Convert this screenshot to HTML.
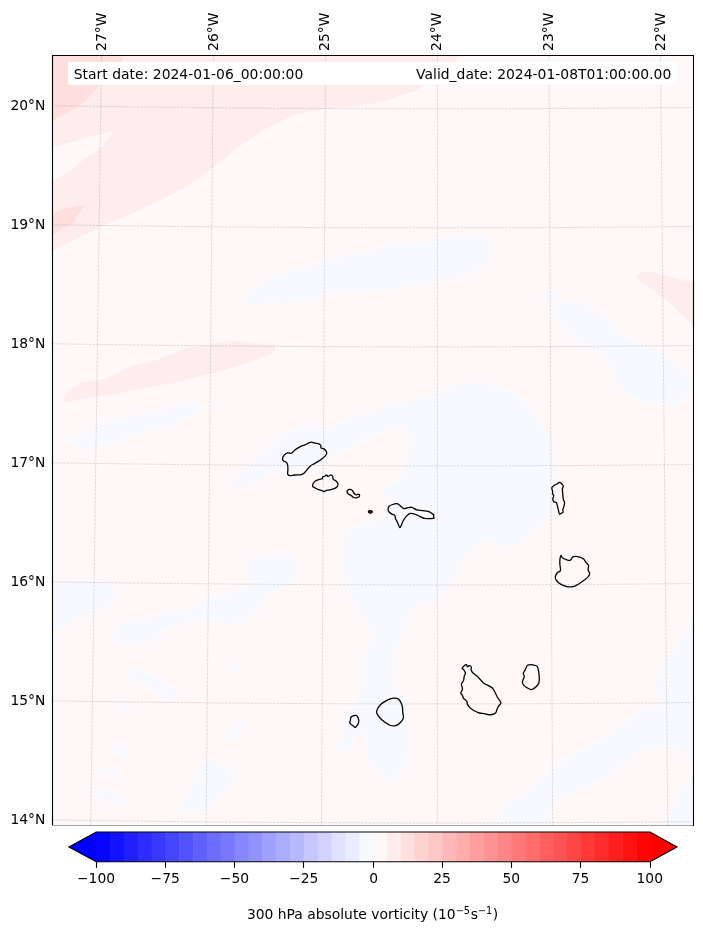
<!DOCTYPE html>
<html><head><meta charset="utf-8"><title>300 hPa absolute vorticity</title>
<style>html,body{margin:0;padding:0;background:#fff}svg{display:block;will-change:transform}text{font-family:"DejaVu Sans","Liberation Sans",sans-serif;font-size:13.89px;fill:#000}</style></head><body>
<svg width="703" height="936" viewBox="0 0 703 936">
<rect width="703" height="936" fill="#fff"/>
<defs><clipPath id="ax"><rect x="52.5" y="55.5" width="641.0" height="769.8"/></clipPath></defs>
<g clip-path="url(#ax)">
<rect x="52.5" y="55.5" width="641.0" height="769.8" fill="#fff8f8"/>
<path d="M244.60,297.00 C244.93,294.83 246.27,292.83 250.00,290.00 C253.73,287.17 259.40,283.33 267.00,280.00 C274.60,276.67 285.73,273.18 295.60,270.00 C305.47,266.82 316.02,263.70 326.20,260.90 C336.38,258.10 346.52,255.50 356.70,253.20 C366.88,250.90 377.10,248.88 387.30,247.10 C397.50,245.32 407.70,244.18 417.90,242.50 C428.10,240.82 439.32,238.42 448.50,237.00 C457.68,235.58 466.58,233.83 473.00,234.00 C479.42,234.17 483.83,235.67 487.00,238.00 C490.17,240.33 491.60,244.05 492.00,248.00 C492.40,251.95 492.32,257.75 489.40,261.70 C486.48,265.65 480.30,268.78 474.50,271.70 C468.70,274.62 460.97,277.85 454.60,279.20 C448.23,280.55 443.43,278.78 436.30,279.80 C429.17,280.82 419.97,283.62 411.80,285.30 C403.63,286.98 396.48,288.62 387.30,289.90 C378.12,291.18 366.88,291.98 356.70,293.00 C346.52,294.02 334.85,294.83 326.20,296.00 C317.55,297.17 311.43,298.72 304.80,300.00 C298.17,301.28 291.50,303.33 286.40,303.70 C281.30,304.07 278.60,302.07 274.20,302.20 C269.80,302.33 264.37,304.37 260.00,304.50 C255.63,304.63 250.57,304.25 248.00,303.00 C245.43,301.75 244.27,299.17 244.60,297.00Z" fill="#f8f8ff"/>
<path d="M67.30,438.20 C68.83,436.42 74.95,436.40 82.60,433.60 C90.25,430.80 103.02,424.70 113.20,421.40 C123.38,418.10 133.52,416.25 143.70,413.80 C153.88,411.35 165.63,408.38 174.30,406.70 C182.97,405.02 191.62,403.28 195.70,403.70 C199.78,404.12 200.32,407.02 198.80,409.20 C197.28,411.38 190.68,414.52 186.60,416.80 C182.52,419.08 179.92,420.85 174.30,422.90 C168.68,424.95 160.53,426.80 152.90,429.10 C145.27,431.40 136.15,434.00 128.50,436.70 C120.85,439.40 113.63,443.27 107.00,445.30 C100.37,447.33 94.30,449.07 88.70,448.90 C83.10,448.73 76.97,446.08 73.40,444.30 C69.83,442.52 65.77,439.98 67.30,438.20Z" fill="#f8f8ff"/>
<path d="M211.00,404.00 C211.83,403.08 214.83,402.33 216.00,402.50 C217.17,402.67 218.17,404.00 218.00,405.00 C217.83,406.00 216.17,408.00 215.00,408.50 C213.83,409.00 211.67,408.75 211.00,408.00 C210.33,407.25 210.17,404.92 211.00,404.00Z" fill="#f8f8ff"/>
<path d="M542.00,296.00 C542.67,294.58 545.50,292.08 548.00,291.50 C550.50,290.92 555.17,291.58 557.00,292.50 C558.83,293.42 559.83,295.67 559.00,297.00 C558.17,298.33 554.50,300.00 552.00,300.50 C549.50,301.00 545.67,300.75 544.00,300.00 C542.33,299.25 541.33,297.42 542.00,296.00Z" fill="#f8f8ff"/>
<path d="M552.90,306.70 C556.73,304.80 569.53,301.23 575.90,301.50 C582.27,301.77 585.50,305.38 591.10,308.30 C596.70,311.22 605.67,315.43 609.50,319.00 C613.33,322.57 609.52,325.88 614.10,329.70 C618.68,333.52 629.10,338.08 637.00,341.90 C644.90,345.72 654.37,348.78 661.50,352.60 C668.63,356.42 675.22,360.22 679.80,364.80 C684.38,369.38 687.97,375.00 689.00,380.10 C690.03,385.20 688.55,391.32 686.00,395.40 C683.45,399.48 677.78,402.82 673.70,404.60 C669.62,406.38 666.60,406.62 661.50,406.10 C656.40,405.58 649.22,403.78 643.10,401.50 C636.98,399.22 629.88,396.98 624.80,392.40 C619.72,387.82 615.67,379.62 612.60,374.00 C609.53,368.38 609.98,363.28 606.40,358.70 C602.82,354.12 596.70,350.07 591.10,346.50 C585.50,342.93 577.88,341.38 572.80,337.30 C567.72,333.22 563.92,326.07 560.60,322.00 C557.28,317.93 554.18,315.45 552.90,312.90 C551.62,310.35 549.07,308.60 552.90,306.70Z" fill="#f8f8ff"/>
<path d="M229.60,484.00 C229.60,481.18 237.43,477.32 243.30,471.70 C249.17,466.08 257.65,456.42 264.80,450.30 C271.95,444.18 279.58,439.07 286.20,435.00 C292.82,430.93 299.42,427.93 304.50,425.90 C309.58,423.87 313.78,422.12 316.70,422.80 C319.62,423.48 316.90,430.50 322.00,430.00 C327.10,429.50 339.00,423.03 347.30,419.80 C355.60,416.57 363.63,413.15 371.80,410.60 C379.97,408.05 388.15,406.55 396.30,404.50 C404.45,402.45 413.42,400.35 420.70,398.30 C427.98,396.25 434.88,394.27 440.00,392.20 C445.12,390.13 444.85,387.42 451.40,385.90 C457.95,384.38 471.33,382.77 479.30,383.10 C487.27,383.43 492.57,385.45 499.20,387.90 C505.83,390.35 513.13,393.82 519.10,397.80 C525.07,401.78 530.68,406.15 535.00,411.80 C539.32,417.45 542.33,425.07 545.00,431.70 C547.67,438.33 549.33,444.30 551.00,451.60 C552.67,458.90 554.47,468.20 555.00,475.50 C555.53,482.80 555.20,488.77 554.20,495.40 C553.20,502.03 552.20,509.33 549.00,515.30 C545.80,521.27 539.98,526.55 535.00,531.20 C530.02,535.85 524.93,540.90 519.10,543.20 C513.27,545.50 505.77,545.30 500.00,545.00 C494.23,544.70 490.63,539.05 484.50,541.40 C478.37,543.75 469.13,551.40 463.20,559.10 C457.27,566.80 453.65,580.48 448.90,587.60 C444.15,594.72 440.62,598.25 434.70,601.80 C428.78,605.35 419.33,601.78 413.40,608.90 C407.47,616.02 402.67,632.65 399.10,644.50 C395.53,656.35 391.18,670.75 392.00,680.00 C392.82,689.25 401.33,691.67 404.00,700.00 C406.67,708.33 407.62,720.28 408.00,730.00 C408.38,739.72 408.97,750.03 406.30,758.30 C403.63,766.57 397.93,778.42 392.00,779.60 C386.07,780.78 375.43,772.83 370.70,765.40 C365.97,757.97 366.57,738.55 363.60,735.00 C360.63,731.45 357.05,741.40 352.90,744.10 C348.75,746.80 340.48,754.77 338.70,751.20 C336.92,747.63 338.65,732.18 342.20,722.70 C345.75,713.22 356.43,704.97 360.00,694.30 C363.57,683.63 361.82,669.37 363.60,658.70 C365.38,648.03 372.48,639.78 370.70,630.30 C368.92,620.82 357.65,612.47 352.90,601.80 C348.15,591.13 343.35,577.43 342.20,566.30 C341.05,555.17 342.37,542.22 346.00,535.00 C349.63,527.78 357.58,525.87 364.00,523.00 C370.42,520.13 380.67,521.30 384.50,517.80 C388.33,514.30 387.08,506.97 387.00,502.00 C386.92,497.03 381.17,492.83 384.00,488.00 C386.83,483.17 399.83,481.00 404.00,473.00 C408.17,465.00 408.67,447.83 409.00,440.00 C409.33,432.17 410.83,427.33 406.00,426.00 C401.17,424.67 389.33,428.50 380.00,432.00 C370.67,435.50 358.33,442.67 350.00,447.00 C341.67,451.33 334.00,455.50 330.00,458.00 C326.00,460.50 331.00,460.33 326.00,462.00 C321.00,463.67 307.17,466.38 300.00,468.00 C292.83,469.62 287.85,470.57 283.00,471.70 C278.15,472.83 275.47,473.02 270.90,474.80 C266.33,476.58 260.20,480.10 255.60,482.40 C251.00,484.70 247.63,488.33 243.30,488.60 C238.97,488.87 229.60,486.82 229.60,484.00Z" fill="#f8f8ff"/>
<path d="M498.80,819.10 C500.30,815.20 500.32,811.30 505.00,806.60 C509.68,801.90 519.07,797.17 526.90,790.90 C534.73,784.63 544.17,775.25 552.00,769.00 C559.83,762.75 566.08,758.10 573.90,753.40 C581.72,748.70 592.63,744.45 598.90,740.80 C605.17,737.15 606.28,735.15 611.50,731.50 C616.72,727.85 623.95,722.57 630.20,718.90 C636.45,715.23 643.78,712.10 649.00,709.50 C654.22,706.90 660.20,706.42 661.50,703.30 C662.80,700.18 657.32,695.50 656.80,690.80 C656.28,686.10 655.52,681.88 658.40,675.10 C661.28,668.32 669.40,657.92 674.10,650.10 C678.80,642.28 682.28,633.22 686.60,628.20 C690.92,623.18 697.77,599.03 700.00,620.00 C702.23,640.97 703.28,732.30 700.00,754.00 C696.72,775.70 685.67,751.35 680.30,750.20 C674.93,749.05 673.02,747.35 667.80,747.10 C662.58,746.85 655.27,746.62 649.00,748.70 C642.73,750.78 636.45,755.17 630.20,759.60 C623.95,764.03 617.75,771.12 611.50,775.30 C605.25,779.48 598.97,782.10 592.70,784.70 C586.43,787.30 580.17,788.30 573.90,790.90 C567.63,793.50 559.27,796.65 555.10,800.30 C550.93,803.95 550.20,807.85 548.90,812.80 C547.60,817.75 556.12,827.13 547.30,830.00 C538.48,832.87 504.08,831.82 496.00,830.00 C487.92,828.18 497.30,823.00 498.80,819.10Z" fill="#f8f8ff"/>
<path d="M700.00,772.00 C696.67,766.00 685.33,786.17 680.00,794.00 C674.67,801.83 670.17,813.00 668.00,819.00 C665.83,825.00 661.67,828.17 667.00,830.00 C672.33,831.83 694.50,839.67 700.00,830.00 C705.50,820.33 703.33,778.00 700.00,772.00Z" fill="#f8f8ff"/>
<path d="M48.00,587.00 C52.50,579.17 64.50,583.33 75.00,583.00 C85.50,582.67 104.67,582.17 111.00,585.00 C117.33,587.83 114.83,595.83 113.00,600.00 C111.17,604.17 105.67,606.83 100.00,610.00 C94.33,613.17 85.67,616.00 79.00,619.00 C72.33,622.00 65.17,626.17 60.00,628.00 C54.83,629.83 50.00,636.83 48.00,630.00 C46.00,623.17 43.50,594.83 48.00,587.00Z" fill="#f8f8ff"/>
<path d="M113.00,632.00 C114.67,629.00 120.00,624.17 125.00,622.00 C130.00,619.83 135.50,620.67 143.00,619.00 C150.50,617.33 162.42,613.50 170.00,612.00 C177.58,610.50 182.83,611.83 188.50,610.00 C194.17,608.17 199.42,603.27 204.00,601.00 C208.58,598.73 210.33,598.23 216.00,596.40 C221.67,594.57 231.50,592.07 238.00,590.00 C244.50,587.93 254.17,587.00 255.00,584.00 C255.83,581.00 243.83,576.00 243.00,572.00 C242.17,568.00 245.50,563.17 250.00,560.00 C254.50,556.83 263.00,553.67 270.00,553.00 C277.00,552.33 287.67,553.17 292.00,556.00 C296.33,558.83 296.33,565.67 296.00,570.00 C295.67,574.33 293.17,578.67 290.00,582.00 C286.83,585.33 281.00,587.33 277.00,590.00 C273.00,592.67 269.33,594.67 266.00,598.00 C262.67,601.33 262.33,605.72 257.00,610.00 C251.67,614.28 241.00,621.70 234.00,623.70 C227.00,625.70 220.33,622.75 215.00,622.00 C209.67,621.25 209.50,618.20 202.00,619.20 C194.50,620.20 178.33,624.53 170.00,628.00 C161.67,631.47 159.50,636.92 152.00,640.00 C144.50,643.08 131.17,646.50 125.00,646.50 C118.83,646.50 117.00,642.42 115.00,640.00 C113.00,637.58 111.33,635.00 113.00,632.00Z" fill="#f8f8ff"/>
<path d="M128.00,668.00 C130.00,667.17 134.67,668.00 140.00,670.00 C145.33,672.00 154.00,676.67 160.00,680.00 C166.00,683.33 173.67,687.17 176.00,690.00 C178.33,692.83 176.67,696.33 174.00,697.00 C171.33,697.67 165.67,696.33 160.00,694.00 C154.33,691.67 145.33,686.17 140.00,683.00 C134.67,679.83 130.00,677.50 128.00,675.00 C126.00,672.50 126.00,668.83 128.00,668.00Z" fill="#f8f8ff"/>
<path d="M180.00,806.00 C180.00,802.33 186.67,796.83 190.00,790.00 C193.33,783.17 195.83,770.00 200.00,765.00 C204.17,760.00 210.83,759.17 215.00,760.00 C219.17,760.83 221.67,769.17 225.00,770.00 C228.33,770.83 234.17,762.50 235.00,765.00 C235.83,767.50 233.33,779.17 230.00,785.00 C226.67,790.83 219.17,795.83 215.00,800.00 C210.83,804.17 209.17,808.00 205.00,810.00 C200.83,812.00 194.17,812.67 190.00,812.00 C185.83,811.33 180.00,809.67 180.00,806.00Z" fill="#f8f8ff"/>
<path d="M118.00,700.00 C119.33,699.50 124.00,701.00 126.00,703.00 C128.00,705.00 130.33,710.50 130.00,712.00 C129.67,713.50 126.00,713.00 124.00,712.00 C122.00,711.00 119.00,708.00 118.00,706.00 C117.00,704.00 116.67,700.50 118.00,700.00Z" fill="#f8f8ff"/>
<path d="M112.00,742.00 C113.67,741.67 119.33,743.67 122.00,746.00 C124.67,748.33 128.33,754.50 128.00,756.00 C127.67,757.50 122.67,756.33 120.00,755.00 C117.33,753.67 113.33,750.17 112.00,748.00 C110.67,745.83 110.33,742.33 112.00,742.00Z" fill="#f8f8ff"/>
<path d="M98.00,768.00 C100.33,767.50 108.33,768.67 112.00,770.00 C115.67,771.33 120.33,774.67 120.00,776.00 C119.67,777.33 113.67,778.50 110.00,778.00 C106.33,777.50 100.00,774.67 98.00,773.00 C96.00,771.33 95.67,768.50 98.00,768.00Z" fill="#f8f8ff"/>
<path d="M92.00,788.00 C95.00,787.33 104.33,788.00 110.00,790.00 C115.67,792.00 124.33,797.33 126.00,800.00 C127.67,802.67 123.67,806.00 120.00,806.00 C116.33,806.00 108.67,802.00 104.00,800.00 C99.33,798.00 94.00,796.00 92.00,794.00 C90.00,792.00 89.00,788.67 92.00,788.00Z" fill="#f8f8ff"/>
<path d="M230.00,664.00 C231.33,662.83 235.33,661.33 237.00,662.00 C238.67,662.67 240.50,666.33 240.00,668.00 C239.50,669.67 235.83,671.83 234.00,672.00 C232.17,672.17 229.67,670.33 229.00,669.00 C228.33,667.67 228.67,665.17 230.00,664.00Z" fill="#f8f8ff"/>
<path d="M225.00,735.00 C225.83,732.17 231.67,727.17 235.00,725.00 C238.33,722.83 244.17,720.83 245.00,722.00 C245.83,723.17 242.50,728.67 240.00,732.00 C237.50,735.33 232.50,741.50 230.00,742.00 C227.50,742.50 224.17,737.83 225.00,735.00Z" fill="#f8f8ff"/>
<polygon points="48.0,48.0 461.0,48.0 461.0,55.0 450.0,66.0 425.0,85.0 414.0,91.4 399.0,95.8 386.7,100.5 371.0,103.8 345.7,107.3 325.6,109.0 307.0,111.9 291.8,115.7 282.0,121.0 263.9,129.6 247.9,141.5 240.0,146.0 212.2,168.0 186.6,186.5 175.2,193.0 143.7,207.9 135.3,212.0 99.6,227.3 53.4,250.0 48.0,253.0" fill="#ffecec"/>
<polygon points="48.0,148.5 53.5,146.7 70.3,142.2 88.7,137.0 104.0,133.0 112.6,132.1 108.6,139.1 97.9,149.8 82.6,160.5 67.3,172.7 53.5,180.4 48.0,183.0" fill="#fff8f8"/>
<polygon points="48.0,48.0 122.5,48.0 122.5,55.0 122.0,62.0 112.0,74.0 99.8,85.3 85.0,101.5 66.8,112.9 53.4,120.3 48.0,123.0" fill="#ffdede"/>
<polygon points="48.0,214.5 53.5,212.5 67.3,207.9 78.0,205.5 85.0,205.5 82.6,209.4 76.5,215.6 74.9,221.7 64.2,227.8 53.5,233.9 48.0,236.0" fill="#ffdede"/>
<path d="M63.60,397.80 C64.35,395.87 67.13,392.73 70.30,390.20 C73.47,387.67 76.48,384.63 82.60,382.60 C88.72,380.57 99.37,380.55 107.00,378.00 C114.63,375.45 120.75,370.12 128.40,367.30 C136.05,364.48 144.23,363.92 152.90,361.10 C161.57,358.28 170.72,353.20 180.40,350.40 C190.08,347.60 201.82,345.82 211.00,344.30 C220.18,342.78 228.37,341.45 235.50,341.30 C242.63,341.15 248.55,342.75 253.80,343.40 C259.05,344.05 263.55,344.85 267.00,345.20 C270.45,345.55 273.25,344.65 274.50,345.50 C275.75,346.35 275.75,348.62 274.50,350.30 C273.25,351.98 271.47,353.53 267.00,355.60 C262.53,357.67 254.98,360.25 247.70,362.70 C240.42,365.15 231.45,368.02 223.30,370.30 C215.15,372.58 206.97,374.35 198.80,376.40 C190.63,378.45 182.45,380.82 174.30,382.60 C166.15,384.38 158.05,385.58 149.90,387.10 C141.75,388.62 133.57,390.17 125.40,391.70 C117.23,393.23 108.55,395.02 100.90,396.30 C93.25,397.58 85.35,398.48 79.50,399.40 C73.65,400.32 68.45,402.07 65.80,401.80 C63.15,401.53 62.85,399.73 63.60,397.80Z" fill="#ffecec"/>
<path d="M637.00,276.20 C638.03,274.83 640.62,271.87 644.70,271.60 C648.78,271.33 655.65,273.23 661.50,274.60 C667.35,275.97 673.38,277.65 679.80,279.80 C686.22,281.95 696.63,279.63 700.00,287.50 C703.37,295.37 702.85,322.27 700.00,327.00 C697.15,331.73 687.78,319.78 682.90,315.90 C678.02,312.02 674.78,307.37 670.70,303.70 C666.62,300.03 662.48,296.97 658.40,293.90 C654.32,290.83 649.52,287.65 646.20,285.30 C642.88,282.95 640.03,281.32 638.50,279.80 C636.97,278.28 635.97,277.57 637.00,276.20Z" fill="#ffecec"/>
<path d="M101.5,55.0 L90.7,826.0 M213.4,55.0 L206.1,826.0 M325.5,55.0 L321.5,826.0 M437.5,55.0 L437.3,826.0 M549.0,55.0 L552.6,826.0 M660.5,55.0 L667.8,826.0 M52.0,105.71 L92.0,106.31 L132.0,106.86 L172.0,107.33 L212.0,107.74 L252.0,108.08 L292.0,108.36 L332.0,108.57 L372.0,108.71 L412.0,108.79 L452.0,108.80 L492.0,108.74 L532.0,108.61 L572.0,108.42 L612.0,108.16 L652.0,107.84 L692.0,107.45 M52.0,224.74 L92.0,225.34 L132.0,225.89 L172.0,226.36 L212.0,226.77 L252.0,227.11 L292.0,227.39 L332.0,227.60 L372.0,227.74 L412.0,227.82 L452.0,227.83 L492.0,227.77 L532.0,227.64 L572.0,227.45 L612.0,227.19 L652.0,226.87 L692.0,226.48 M52.0,343.77 L92.0,344.37 L132.0,344.92 L172.0,345.39 L212.0,345.80 L252.0,346.14 L292.0,346.42 L332.0,346.63 L372.0,346.77 L412.0,346.85 L452.0,346.86 L492.0,346.80 L532.0,346.67 L572.0,346.48 L612.0,346.22 L652.0,345.90 L692.0,345.51 M52.0,462.80 L92.0,463.40 L132.0,463.95 L172.0,464.42 L212.0,464.83 L252.0,465.17 L292.0,465.45 L332.0,465.66 L372.0,465.80 L412.0,465.88 L452.0,465.89 L492.0,465.83 L532.0,465.70 L572.0,465.51 L612.0,465.25 L652.0,464.93 L692.0,464.54 M52.0,581.83 L92.0,582.43 L132.0,582.98 L172.0,583.45 L212.0,583.86 L252.0,584.20 L292.0,584.48 L332.0,584.69 L372.0,584.83 L412.0,584.91 L452.0,584.92 L492.0,584.86 L532.0,584.73 L572.0,584.54 L612.0,584.28 L652.0,583.96 L692.0,583.57 M52.0,700.86 L92.0,701.46 L132.0,702.01 L172.0,702.48 L212.0,702.89 L252.0,703.23 L292.0,703.51 L332.0,703.72 L372.0,703.86 L412.0,703.94 L452.0,703.95 L492.0,703.89 L532.0,703.76 L572.0,703.57 L612.0,703.31 L652.0,702.99 L692.0,702.60 M52.0,819.89 L92.0,820.49 L132.0,821.04 L172.0,821.51 L212.0,821.92 L252.0,822.26 L292.0,822.54 L332.0,822.75 L372.0,822.89 L412.0,822.97 L452.0,822.98 L492.0,822.92 L532.0,822.79 L572.0,822.60 L612.0,822.34 L652.0,822.02 L692.0,821.63" fill="none" stroke="#808080" stroke-opacity="0.36" stroke-width="0.72" stroke-dasharray="2.57 1.11"/>
<path d="M311.40,442.20 C312.38,442.27 313.57,442.93 314.80,443.20 C316.03,443.47 317.80,443.42 318.80,443.80 C319.80,444.18 320.43,444.82 320.80,445.50 C321.17,446.18 320.50,447.33 321.00,447.90 C321.50,448.47 322.92,448.32 323.80,448.90 C324.68,449.48 325.83,450.57 326.30,451.40 C326.77,452.23 326.93,452.98 326.60,453.90 C326.27,454.82 325.43,455.82 324.30,456.90 C323.17,457.98 321.38,459.32 319.80,460.40 C318.22,461.48 316.37,462.48 314.80,463.40 C313.23,464.32 311.72,464.82 310.40,465.90 C309.08,466.98 307.98,468.67 306.90,469.90 C305.82,471.13 304.82,472.52 303.90,473.30 C302.98,474.08 302.90,474.32 301.40,474.60 C299.90,474.88 296.82,474.83 294.90,475.00 C292.98,475.17 291.10,475.72 289.90,475.60 C288.70,475.48 288.03,475.25 287.70,474.30 C287.37,473.35 287.90,471.38 287.90,469.90 C287.90,468.42 287.93,466.65 287.70,465.40 C287.47,464.15 287.20,463.12 286.50,462.40 C285.80,461.68 284.17,461.68 283.50,461.10 C282.83,460.52 282.42,459.85 282.50,458.90 C282.58,457.95 283.17,456.40 284.00,455.40 C284.83,454.40 286.27,453.27 287.50,452.90 C288.73,452.53 290.17,453.70 291.40,453.20 C292.63,452.70 293.48,450.95 294.90,449.90 C296.32,448.85 298.07,447.80 299.90,446.90 C301.73,446.00 304.40,445.18 305.90,444.50 C307.40,443.82 307.98,443.18 308.90,442.80 C309.82,442.42 310.42,442.13 311.40,442.20Z" fill="none" stroke="#000" stroke-width="1.3" stroke-linejoin="round"/>
<path d="M312.60,486.30 C312.33,485.55 312.77,484.22 313.30,483.30 C313.83,482.38 314.80,481.47 315.80,480.80 C316.80,480.13 318.22,479.63 319.30,479.30 C320.38,478.97 321.72,479.22 322.30,478.80 C322.88,478.38 322.30,477.27 322.80,476.80 C323.30,476.33 324.72,476.33 325.30,476.00 C325.88,475.67 325.88,474.75 326.30,474.80 C326.72,474.85 327.30,476.13 327.80,476.30 C328.30,476.47 328.80,476.05 329.30,475.80 C329.80,475.55 330.25,474.72 330.80,474.80 C331.35,474.88 332.18,475.55 332.60,476.30 C333.02,477.05 332.77,478.55 333.30,479.30 C333.83,480.05 335.07,480.13 335.80,480.80 C336.53,481.47 337.42,482.38 337.70,483.30 C337.98,484.22 337.98,485.47 337.50,486.30 C337.02,487.13 336.08,487.72 334.80,488.30 C333.52,488.88 331.22,489.47 329.80,489.80 C328.38,490.13 327.22,490.00 326.30,490.30 C325.38,490.60 325.05,491.55 324.30,491.60 C323.55,491.65 322.88,490.98 321.80,490.60 C320.72,490.22 318.95,489.77 317.80,489.30 C316.65,488.83 315.77,488.30 314.90,487.80 C314.03,487.30 312.87,487.05 312.60,486.30Z" fill="none" stroke="#000" stroke-width="1.3" stroke-linejoin="round"/>
<path d="M347.10,492.10 C346.93,491.40 347.28,490.45 347.80,490.00 C348.32,489.55 349.42,489.28 350.20,489.40 C350.98,489.52 351.83,490.02 352.50,490.70 C353.17,491.38 353.55,492.80 354.20,493.50 C354.85,494.20 355.68,494.78 356.40,494.90 C357.12,495.02 357.97,494.12 358.50,494.20 C359.03,494.28 359.55,494.92 359.60,495.40 C359.65,495.88 359.33,496.70 358.80,497.10 C358.27,497.50 357.28,497.73 356.40,497.80 C355.52,497.87 354.33,497.87 353.50,497.50 C352.67,497.13 352.18,496.15 351.40,495.60 C350.62,495.05 349.52,494.78 348.80,494.20 C348.08,493.62 347.27,492.80 347.10,492.10Z" fill="none" stroke="#000" stroke-width="1.3" stroke-linejoin="round"/>
<path d="M368.50,511.30 C368.70,511.00 369.40,510.72 370.00,510.70 C370.60,510.68 371.78,510.88 372.10,511.20 C372.42,511.52 372.18,512.28 371.90,512.60 C371.62,512.92 370.92,513.12 370.40,513.10 C369.88,513.08 369.12,512.80 368.80,512.50 C368.48,512.20 368.30,511.60 368.50,511.30Z" fill="#000" fill-opacity="0.75" stroke="#000" stroke-width="1.3" stroke-linejoin="round"/>
<path d="M388.10,509.20 C388.10,508.25 388.35,507.08 389.10,506.30 C389.85,505.52 391.30,504.95 392.60,504.50 C393.90,504.05 395.72,503.47 396.90,503.60 C398.08,503.73 398.63,504.50 399.70,505.30 C400.77,506.10 402.10,507.95 403.30,508.40 C404.50,508.85 405.48,508.18 406.90,508.00 C408.32,507.82 410.15,506.98 411.80,507.30 C413.45,507.62 415.02,509.35 416.80,509.90 C418.58,510.45 420.60,510.37 422.50,510.60 C424.40,510.83 426.67,510.83 428.20,511.30 C429.73,511.77 430.78,512.80 431.70,513.40 C432.62,514.00 433.37,514.65 433.70,514.90 C434.03,515.15 433.70,514.35 433.70,514.90 C433.70,515.45 433.70,517.65 433.70,518.20 C433.70,518.75 434.38,518.12 433.70,518.20 C433.02,518.28 431.12,518.67 429.60,518.70 C428.08,518.73 426.25,518.80 424.60,518.40 C422.95,518.00 421.35,517.02 419.70,516.30 C418.05,515.58 416.25,514.58 414.70,514.10 C413.15,513.62 411.70,513.15 410.40,513.40 C409.10,513.65 408.08,514.42 406.90,515.60 C405.72,516.78 404.25,518.85 403.30,520.50 C402.35,522.15 401.80,524.35 401.20,525.50 C400.60,526.65 400.30,527.87 399.70,527.40 C399.10,526.93 398.30,524.20 397.60,522.70 C396.90,521.20 395.97,519.63 395.50,518.40 C395.03,517.17 395.40,516.02 394.80,515.30 C394.20,514.58 392.85,514.65 391.90,514.10 C390.95,513.55 389.73,512.82 389.10,512.00 C388.47,511.18 388.10,510.15 388.10,509.20Z" fill="none" stroke="#000" stroke-width="1.3" stroke-linejoin="round"/>
<path d="M559.50,482.40 C560.20,482.40 560.87,483.12 561.50,483.70 C562.13,484.28 563.15,485.00 563.30,485.90 C563.45,486.80 562.48,487.72 562.40,489.10 C562.32,490.48 562.65,492.48 562.80,494.20 C562.95,495.92 563.00,498.00 563.30,499.40 C563.60,500.80 564.53,501.32 564.60,502.60 C564.67,503.88 564.00,505.93 563.70,507.10 C563.40,508.27 562.90,508.75 562.80,509.60 C562.70,510.45 563.37,511.60 563.10,512.20 C562.83,512.80 561.80,512.88 561.20,513.20 C560.60,513.52 559.93,514.48 559.50,514.10 C559.07,513.72 558.90,512.07 558.60,510.90 C558.30,509.73 558.07,508.48 557.70,507.10 C557.33,505.72 557.05,503.50 556.40,502.60 C555.75,501.70 554.40,502.35 553.80,501.70 C553.20,501.05 552.80,499.73 552.80,498.70 C552.80,497.67 553.83,496.25 553.80,495.50 C553.77,494.75 552.80,494.95 552.60,494.20 C552.40,493.45 552.73,492.07 552.60,491.00 C552.47,489.93 551.55,488.72 551.80,487.80 C552.05,486.88 553.18,486.18 554.10,485.50 C555.02,484.82 556.40,484.22 557.30,483.70 C558.20,483.18 558.80,482.40 559.50,482.40Z" fill="none" stroke="#000" stroke-width="1.3" stroke-linejoin="round"/>
<path d="M560.90,555.50 C561.32,555.18 561.50,557.02 562.40,557.70 C563.30,558.38 565.02,559.17 566.30,559.60 C567.58,560.03 569.03,560.72 570.10,560.30 C571.17,559.88 571.83,557.75 572.70,557.10 C573.57,556.45 574.13,556.40 575.30,556.40 C576.47,556.40 578.32,556.67 579.70,557.10 C581.08,557.53 582.52,558.05 583.60,559.00 C584.68,559.95 585.38,561.73 586.20,562.80 C587.02,563.87 588.18,564.22 588.50,565.40 C588.82,566.58 587.90,568.55 588.10,569.90 C588.30,571.25 589.70,572.33 589.70,573.50 C589.70,574.67 589.02,575.80 588.10,576.90 C587.18,578.00 585.70,578.97 584.20,580.10 C582.70,581.23 580.80,582.67 579.10,583.70 C577.40,584.73 575.92,585.78 574.00,586.30 C572.08,586.82 569.42,586.97 567.60,586.80 C565.78,586.63 564.50,585.88 563.10,585.30 C561.70,584.72 560.38,584.20 559.20,583.30 C558.02,582.40 556.63,581.07 556.00,579.90 C555.37,578.73 555.18,577.50 555.40,576.30 C555.62,575.10 556.45,573.67 557.30,572.70 C558.15,571.73 560.07,571.83 560.50,570.50 C560.93,569.17 560.00,566.52 559.90,564.70 C559.80,562.88 559.73,561.13 559.90,559.60 C560.07,558.07 560.48,555.82 560.90,555.50Z" fill="none" stroke="#000" stroke-width="1.3" stroke-linejoin="round"/>
<path d="M462.10,668.50 C462.15,667.80 463.48,666.33 464.20,665.70 C464.92,665.07 465.87,664.53 466.40,664.70 C466.93,664.87 466.93,666.53 467.40,666.70 C467.87,666.87 468.55,665.63 469.20,665.70 C469.85,665.77 470.98,666.40 471.30,667.10 C471.62,667.80 470.85,668.95 471.10,669.90 C471.35,670.85 471.82,671.77 472.80,672.80 C473.78,673.83 475.70,674.92 477.00,676.10 C478.30,677.28 479.42,678.68 480.60,679.90 C481.78,681.12 482.80,682.45 484.10,683.40 C485.40,684.35 486.97,684.77 488.40,685.60 C489.83,686.43 491.57,687.22 492.70,688.40 C493.83,689.58 494.37,691.15 495.20,692.70 C496.03,694.25 496.75,696.03 497.70,697.70 C498.65,699.37 500.78,701.28 500.90,702.70 C501.02,704.12 499.07,705.02 498.40,706.20 C497.73,707.38 497.38,708.67 496.90,709.80 C496.42,710.93 496.32,712.22 495.50,713.00 C494.68,713.78 493.18,714.22 492.00,714.50 C490.82,714.78 489.72,714.85 488.40,714.70 C487.08,714.55 485.63,713.88 484.10,713.60 C482.57,713.32 480.85,713.47 479.20,713.00 C477.55,712.53 475.75,711.70 474.20,710.80 C472.65,709.90 471.03,708.72 469.90,707.60 C468.77,706.48 467.92,705.17 467.40,704.10 C466.88,703.03 467.45,702.15 466.80,701.20 C466.15,700.25 464.22,699.35 463.50,698.40 C462.78,697.45 462.97,696.38 462.50,695.50 C462.03,694.62 460.70,694.17 460.70,693.10 C460.70,692.03 462.38,690.58 462.50,689.10 C462.62,687.62 461.23,685.62 461.40,684.20 C461.57,682.78 463.03,681.92 463.50,680.60 C463.97,679.28 463.88,677.48 464.20,676.30 C464.52,675.12 465.45,674.57 465.40,673.50 C465.35,672.43 464.45,670.73 463.90,669.90 C463.35,669.07 462.05,669.20 462.10,668.50Z" fill="none" stroke="#000" stroke-width="1.3" stroke-linejoin="round"/>
<path d="M527.50,665.20 C528.33,664.68 530.03,664.70 531.10,664.70 C532.17,664.70 532.90,664.92 533.90,665.20 C534.90,665.48 536.33,665.50 537.10,666.40 C537.87,667.30 538.13,668.70 538.50,670.60 C538.87,672.50 539.23,675.78 539.30,677.80 C539.37,679.82 539.37,681.28 538.90,682.70 C538.43,684.12 537.33,685.35 536.50,686.30 C535.67,687.25 534.80,687.85 533.90,688.40 C533.00,688.95 532.17,689.67 531.10,689.60 C530.03,689.53 528.68,688.67 527.50,688.00 C526.32,687.33 524.87,686.55 524.00,685.60 C523.13,684.65 522.42,683.37 522.30,682.30 C522.18,681.23 522.97,680.20 523.30,679.20 C523.63,678.20 524.30,677.25 524.30,676.30 C524.30,675.35 523.23,674.45 523.30,673.50 C523.37,672.55 524.23,671.55 524.70,670.60 C525.17,669.65 525.63,668.70 526.10,667.80 C526.57,666.90 526.67,665.72 527.50,665.20Z" fill="none" stroke="#000" stroke-width="1.3" stroke-linejoin="round"/>
<path d="M395.20,698.20 C396.62,698.27 397.65,698.58 398.60,699.30 C399.55,700.02 400.27,701.20 400.90,702.50 C401.53,703.80 402.08,705.38 402.40,707.10 C402.72,708.82 402.62,711.10 402.80,712.80 C402.98,714.50 403.63,715.98 403.50,717.30 C403.37,718.62 402.82,719.57 402.00,720.70 C401.18,721.83 399.83,723.25 398.60,724.10 C397.37,724.95 395.93,725.57 394.60,725.80 C393.27,726.03 392.02,725.97 390.60,725.50 C389.18,725.03 387.62,724.02 386.10,723.00 C384.58,721.98 382.83,720.63 381.50,719.40 C380.17,718.17 378.92,716.80 378.10,715.60 C377.28,714.40 376.68,713.33 376.60,712.20 C376.52,711.07 376.97,710.03 377.60,708.80 C378.23,707.57 379.17,706.03 380.40,704.80 C381.63,703.57 383.38,702.38 385.00,701.40 C386.62,700.42 388.40,699.43 390.10,698.90 C391.80,698.37 393.78,698.13 395.20,698.20Z" fill="none" stroke="#000" stroke-width="1.3" stroke-linejoin="round"/>
<path d="M350.80,717.30 C351.23,716.58 352.15,716.18 353.10,715.90 C354.05,715.62 355.65,715.27 356.50,715.60 C357.35,715.93 357.82,716.95 358.20,717.90 C358.58,718.85 358.83,720.27 358.80,721.30 C358.77,722.33 358.57,723.10 358.00,724.10 C357.43,725.10 356.22,727.02 355.40,727.30 C354.58,727.58 353.87,726.33 353.10,725.80 C352.33,725.27 351.37,724.67 350.80,724.10 C350.23,723.53 349.75,723.05 349.70,722.40 C349.65,721.75 350.32,721.05 350.50,720.20 C350.68,719.35 350.37,718.02 350.80,717.30Z" fill="none" stroke="#000" stroke-width="1.3" stroke-linejoin="round"/>
<rect x="68" y="62" width="609" height="22.8" fill="#fff"/>
</g>
<line x1="52" y1="55.5" x2="694" y2="55.5" stroke="#000" stroke-width="1.1"/>
<line x1="52.5" y1="55" x2="52.5" y2="825.3" stroke="#000" stroke-width="1.1"/>
<line x1="693.5" y1="55" x2="693.5" y2="826" stroke="#000" stroke-width="1.1"/>
<line x1="52" y1="825.5" x2="694" y2="825.5" stroke="#000" stroke-opacity="0.36" stroke-width="1"/>
<text x="73.7" y="78.9" letter-spacing="0.035">Start date: 2024-01-06_00:00:00</text>
<text x="671.3" y="78.9" text-anchor="end" letter-spacing="0.03">Valid_date: 2024-01-08T01:00:00.00</text>
<text transform="translate(106.20,50.9) rotate(-90)">27°W</text>
<text transform="translate(218.40,50.9) rotate(-90)">26°W</text>
<text transform="translate(329.25,50.9) rotate(-90)">25°W</text>
<text transform="translate(441.10,50.9) rotate(-90)">24°W</text>
<text transform="translate(553.20,50.9) rotate(-90)">23°W</text>
<text transform="translate(665.00,50.9) rotate(-90)">22°W</text>
<text x="45.4" y="109.95" text-anchor="end">20°N</text>
<text x="45.4" y="228.98" text-anchor="end">19°N</text>
<text x="45.4" y="348.01" text-anchor="end">18°N</text>
<text x="45.4" y="467.04" text-anchor="end">17°N</text>
<text x="45.4" y="586.07" text-anchor="end">16°N</text>
<text x="45.4" y="705.10" text-anchor="end">15°N</text>
<text x="45.4" y="824.13" text-anchor="end">14°N</text>
<polygon points="98.20,832.05 96.20,832.05 68.90,846.90 96.20,861.75 98.20,861.75" fill="#0000ff"/>
<polygon points="648.00,832.05 650.00,832.05 677.00,846.90 650.00,861.75 648.00,861.75" fill="#ff0000"/>
<rect x="96.20" y="832.05" width="14.34" height="29.70" fill="#0606ff"/>
<rect x="110.05" y="832.05" width="14.34" height="29.70" fill="#1212ff"/>
<rect x="123.89" y="832.05" width="14.34" height="29.70" fill="#2020ff"/>
<rect x="137.74" y="832.05" width="14.34" height="29.70" fill="#2c2cff"/>
<rect x="151.58" y="832.05" width="14.34" height="29.70" fill="#3838ff"/>
<rect x="165.43" y="832.05" width="14.34" height="29.70" fill="#4646ff"/>
<rect x="179.27" y="832.05" width="14.34" height="29.70" fill="#5252ff"/>
<rect x="193.12" y="832.05" width="14.34" height="29.70" fill="#6060ff"/>
<rect x="206.96" y="832.05" width="14.34" height="29.70" fill="#6c6cff"/>
<rect x="220.81" y="832.05" width="14.34" height="29.70" fill="#7878ff"/>
<rect x="234.65" y="832.05" width="14.34" height="29.70" fill="#8686ff"/>
<rect x="248.50" y="832.05" width="14.34" height="29.70" fill="#9292ff"/>
<rect x="262.34" y="832.05" width="14.34" height="29.70" fill="#a0a0ff"/>
<rect x="276.19" y="832.05" width="14.34" height="29.70" fill="#acacff"/>
<rect x="290.03" y="832.05" width="14.34" height="29.70" fill="#b8b8ff"/>
<rect x="303.88" y="832.05" width="14.34" height="29.70" fill="#c6c6ff"/>
<rect x="317.72" y="832.05" width="14.34" height="29.70" fill="#d2d2ff"/>
<rect x="331.56" y="832.05" width="14.34" height="29.70" fill="#e0e0ff"/>
<rect x="345.41" y="832.05" width="14.34" height="29.70" fill="#ececff"/>
<rect x="359.25" y="832.05" width="14.34" height="29.70" fill="#f8f8ff"/>
<rect x="373.10" y="832.05" width="14.34" height="29.70" fill="#fff8f8"/>
<rect x="386.94" y="832.05" width="14.34" height="29.70" fill="#ffecec"/>
<rect x="400.79" y="832.05" width="14.34" height="29.70" fill="#ffdede"/>
<rect x="414.63" y="832.05" width="14.34" height="29.70" fill="#ffd2d2"/>
<rect x="428.48" y="832.05" width="14.34" height="29.70" fill="#ffc6c6"/>
<rect x="442.32" y="832.05" width="14.34" height="29.70" fill="#ffb8b8"/>
<rect x="456.17" y="832.05" width="14.34" height="29.70" fill="#ffacac"/>
<rect x="470.01" y="832.05" width="14.34" height="29.70" fill="#ff9e9e"/>
<rect x="483.86" y="832.05" width="14.34" height="29.70" fill="#ff9292"/>
<rect x="497.70" y="832.05" width="14.34" height="29.70" fill="#ff8686"/>
<rect x="511.55" y="832.05" width="14.34" height="29.70" fill="#ff7878"/>
<rect x="525.39" y="832.05" width="14.34" height="29.70" fill="#ff6c6c"/>
<rect x="539.24" y="832.05" width="14.34" height="29.70" fill="#ff5e5e"/>
<rect x="553.09" y="832.05" width="14.34" height="29.70" fill="#ff5252"/>
<rect x="566.93" y="832.05" width="14.34" height="29.70" fill="#ff4646"/>
<rect x="580.77" y="832.05" width="14.34" height="29.70" fill="#ff3838"/>
<rect x="594.62" y="832.05" width="14.34" height="29.70" fill="#ff2c2c"/>
<rect x="608.47" y="832.05" width="14.34" height="29.70" fill="#ff1e1e"/>
<rect x="622.31" y="832.05" width="14.34" height="29.70" fill="#ff1212"/>
<rect x="636.15" y="832.05" width="13.84" height="29.70" fill="#ff0606"/>
<polygon points="96.20,832.05 650.00,832.05 677.00,846.90 650.00,861.75 96.20,861.75 68.90,846.90" fill="none" stroke="#000" stroke-width="1.1" stroke-linejoin="miter"/>
<line x1="96.5" y1="861.8" x2="96.5" y2="867.8" stroke="#000" stroke-width="1.1"/>
<text x="96.00" y="883.2" text-anchor="middle">−100</text>
<line x1="165.5" y1="861.8" x2="165.5" y2="867.8" stroke="#000" stroke-width="1.1"/>
<text x="165.23" y="883.2" text-anchor="middle">−75</text>
<line x1="234.5" y1="861.8" x2="234.5" y2="867.8" stroke="#000" stroke-width="1.1"/>
<text x="234.45" y="883.2" text-anchor="middle">−50</text>
<line x1="303.5" y1="861.8" x2="303.5" y2="867.8" stroke="#000" stroke-width="1.1"/>
<text x="303.68" y="883.2" text-anchor="middle">−25</text>
<line x1="373.5" y1="861.8" x2="373.5" y2="867.8" stroke="#000" stroke-width="1.1"/>
<text x="373.55" y="883.2" text-anchor="middle">0</text>
<line x1="442.5" y1="861.8" x2="442.5" y2="867.8" stroke="#000" stroke-width="1.1"/>
<text x="442.12" y="883.2" text-anchor="middle">25</text>
<line x1="511.5" y1="861.8" x2="511.5" y2="867.8" stroke="#000" stroke-width="1.1"/>
<text x="511.35" y="883.2" text-anchor="middle">50</text>
<line x1="580.5" y1="861.8" x2="580.5" y2="867.8" stroke="#000" stroke-width="1.1"/>
<text x="580.57" y="883.2" text-anchor="middle">75</text>
<line x1="650.5" y1="861.8" x2="650.5" y2="867.8" stroke="#000" stroke-width="1.1"/>
<text x="649.80" y="883.2" text-anchor="middle">100</text>
<text x="246.9" y="918.8">300 hPa absolute vorticity (10<tspan font-size="9.72px" dy="-5.1">−5</tspan><tspan dy="5.1" dx="0.7">s</tspan><tspan font-size="9.72px" dy="-5.1">−1</tspan><tspan dy="5.1" dx="0.5">)</tspan></text>
</svg></body></html>
